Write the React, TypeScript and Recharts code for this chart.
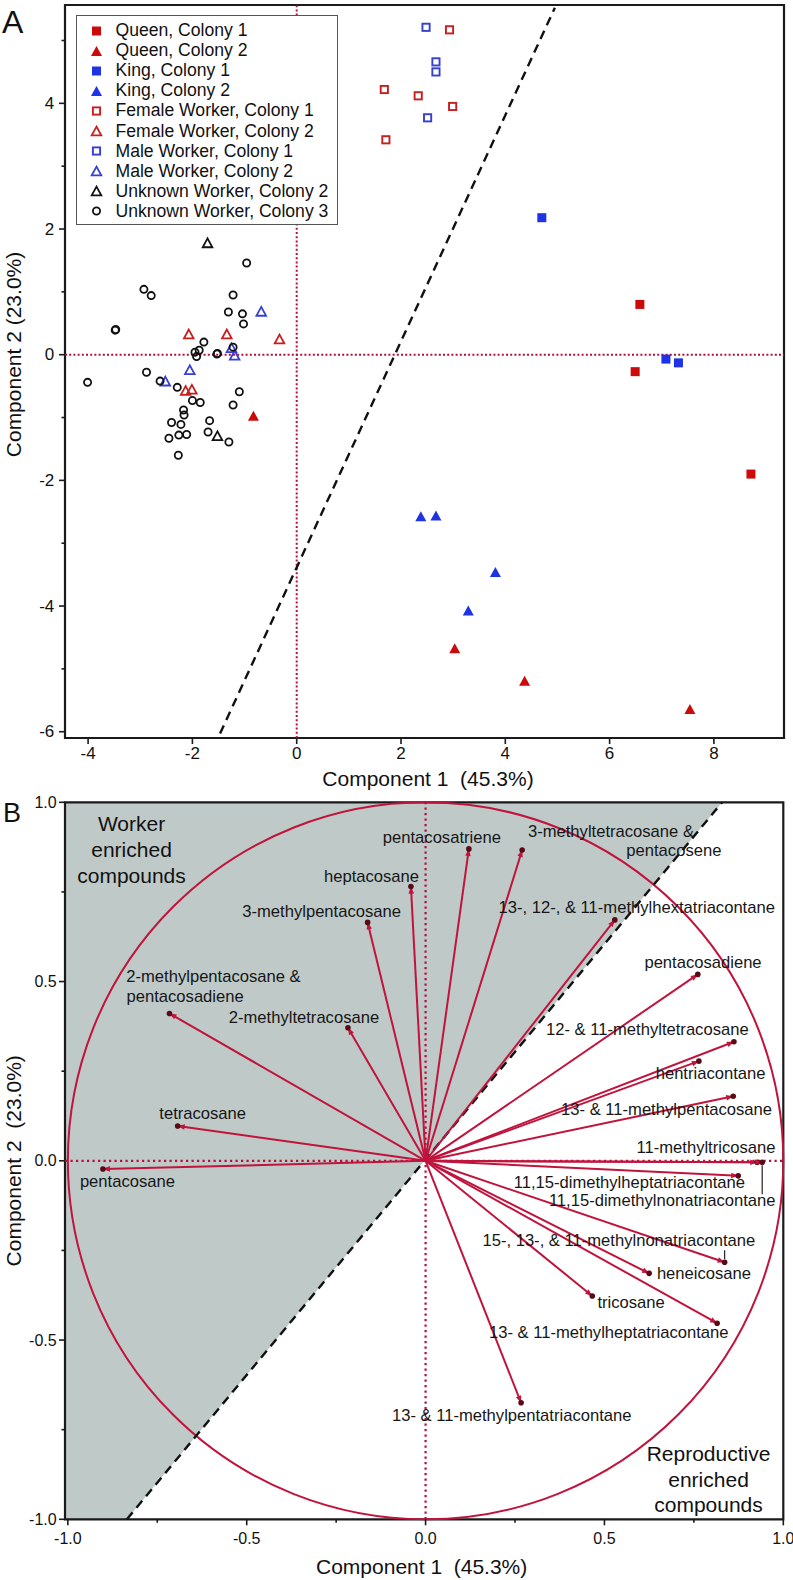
import React from "react";
import {
  ScatterChart,
  ComposedChart,
  Scatter,
  Area,
  XAxis,
  YAxis,
  ReferenceLine,
  ReferenceArea,
  ReferenceDot,
  Legend,
  Label,
} from "recharts";

const FONT = '"Liberation Sans", Arial, Helvetica, sans-serif';
const INK = "#1a1a1a";
const CRIMSON = "#c0143c";
const DOTTED = "#b3113c";

// ---------- panel A: PCA scores ----------
const queenColony1 = [
  { x: 6.58, y: 0.8 },
  { x: 6.49, y: -0.27 },
  { x: 8.71, y: -1.9 },
];
const queenColony2 = [
  { x: -0.83, y: -0.97 },
  { x: 3.03, y: -4.67 },
  { x: 4.37, y: -5.19 },
  { x: 7.54, y: -5.64 },
];
const kingColony1 = [
  { x: 4.7, y: 2.18 },
  { x: 7.08, y: -0.07 },
  { x: 7.32, y: -0.13 },
];
const kingColony2 = [
  { x: 2.38, y: -2.57 },
  { x: 2.67, y: -2.56 },
  { x: 3.81, y: -3.46 },
  { x: 3.29, y: -4.07 },
];
const femaleWorkerColony1 = [
  { x: 1.68, y: 4.22 },
  { x: 1.71, y: 3.42 },
  { x: 2.33, y: 4.12 },
  { x: 2.93, y: 5.17 },
  { x: 2.99, y: 3.95 },
];
const femaleWorkerColony2 = [
  { x: -2.07, y: 0.33 },
  { x: -1.34, y: 0.33 },
  { x: -0.33, y: 0.25 },
  { x: -2.13, y: -0.57 },
  { x: -2.01, y: -0.55 },
];
const maleWorkerColony1 = [
  { x: 2.48, y: 5.21 },
  { x: 2.67, y: 4.66 },
  { x: 2.67, y: 4.5 },
  { x: 2.51, y: 3.77 },
];
const maleWorkerColony2 = [
  { x: -0.68, y: 0.69 },
  { x: -1.25, y: 0.11 },
  { x: -1.19, y: -0.01 },
  { x: -2.05, y: -0.24 },
  { x: -2.52, y: -0.42 },
];
const unknownWorkerColony2 = [
  { x: -1.71, y: 1.78 },
  { x: -1.52, y: -1.29 },
];
const unknownWorkerColony3 = [
  { x: -0.96, y: 1.46 },
  { x: -2.93, y: 1.04 },
  { x: -2.79, y: 0.94 },
  { x: -1.22, y: 0.95 },
  { x: -1.31, y: 0.68 },
  { x: -1.04, y: 0.65 },
  { x: -1.02, y: 0.49 },
  { x: -3.48, y: 0.39 },
  { x: -3.47, y: 0.4 },
  { x: -1.78, y: 0.2 },
  { x: -1.87, y: 0.07 },
  { x: -1.95, y: 0.04 },
  { x: -1.92, y: -0.03 },
  { x: -1.53, y: 0.01 },
  { x: -1.52, y: 0.02 },
  { x: -1.22, y: 0.12 },
  { x: -4.01, y: -0.44 },
  { x: -2.88, y: -0.28 },
  { x: -2.62, y: -0.42 },
  { x: -2.29, y: -0.52 },
  { x: -2.0, y: -0.73 },
  { x: -1.85, y: -0.76 },
  { x: -1.1, y: -0.59 },
  { x: -1.22, y: -0.8 },
  { x: -2.17, y: -0.88 },
  { x: -2.16, y: -0.96 },
  { x: -1.67, y: -1.05 },
  { x: -2.4, y: -1.08 },
  { x: -2.22, y: -1.11 },
  { x: -1.7, y: -1.23 },
  { x: -2.11, y: -1.27 },
  { x: -2.26, y: -1.28 },
  { x: -2.45, y: -1.33 },
  { x: -1.3, y: -1.39 },
  { x: -2.27, y: -1.6 },
];

const A_X_DOMAIN = [-4.443, 9.344];
const A_Y_DOMAIN = [-6.1, 5.565];
const A_X_TICKS = [-4, -2, 0, 2, 4, 6, 8];
const A_Y_MAJOR = [-6, -4, -2, 0, 2, 4];
const A_Y_MINOR = [-5, -3, -1, 1, 3, 5];
const A_DIVIDER = [
  { x: -1.47, y: -6.03 },
  { x: 4.95, y: 5.52 },
];

type Kind = "square" | "triangle" | "circle";
const A_GROUPS: { name: string; data: { x: number; y: number }[]; color: string; kind: Kind; open: boolean }[] = [
  { name: "Queen, Colony 1", data: queenColony1, color: "#cc0a0a", kind: "square", open: false },
  { name: "Queen, Colony 2", data: queenColony2, color: "#cc0a0a", kind: "triangle", open: false },
  { name: "King, Colony 1", data: kingColony1, color: "#1e32e6", kind: "square", open: false },
  { name: "King, Colony 2", data: kingColony2, color: "#1e32e6", kind: "triangle", open: false },
  { name: "Female Worker, Colony 1", data: femaleWorkerColony1, color: "#c81e1e", kind: "square", open: true },
  { name: "Female Worker, Colony 2", data: femaleWorkerColony2, color: "#c81e1e", kind: "triangle", open: true },
  { name: "Male Worker, Colony 1", data: maleWorkerColony1, color: "#3540d0", kind: "square", open: true },
  { name: "Male Worker, Colony 2", data: maleWorkerColony2, color: "#3540d0", kind: "triangle", open: true },
  { name: "Unknown Worker, Colony 2", data: unknownWorkerColony2, color: "#111", kind: "triangle", open: true },
  { name: "Unknown Worker, Colony 3", data: unknownWorkerColony3, color: "#111", kind: "circle", open: true },
];

// ---------- panel B: loadings ----------
const compounds = [
  "pentacosane",
  "tetracosane",
  "2-methylpentacosane &\npentacosadiene",
  "2-methyltetracosane",
  "3-methylpentacosane",
  "heptacosane",
  "pentacosatriene",
  "3-methyltetracosane &\npentacosene",
  "13-, 12-, & 11-methylhextatriacontane",
  "pentacosadiene",
  "12- & 11-methyltetracosane",
  "hentriacontane",
  "13- & 11-methylpentacosane",
  "11-methyltricosane",
  "11,15-dimethylheptatriacontane",
  "11,15-dimethylnonatriacontane",
  "15-, 13-, & 11-methylnonatriacontane",
  "heneicosane",
  "tricosane",
  "13- & 11-methylheptatriacontane",
  "13- & 11-methylpentatriacontane",
];
const loadingPC1 = [
  -0.902, -0.693, -0.716, -0.217, -0.162, -0.041, 0.121, 0.27, 0.529, 0.761, 0.862, 0.764, 0.86, 0.927, 0.874,
  0.941, 0.836, 0.625, 0.466, 0.815, 0.267,
];
const loadingPC2 = [
  -0.023, 0.097, 0.411, 0.371, 0.665, 0.765, 0.87, 0.867, 0.672, 0.52, 0.332, 0.278, 0.18, -0.004, -0.042, -0.004,
  -0.283, -0.314, -0.377, -0.453, -0.675,
];

const B_X_DOMAIN = [-1.008, 1.0];
const B_Y_DOMAIN = [-1, 1];
const B_MAJOR = [-1, -0.5, 0, 0.5, 1];
const B_MINOR = [-0.75, -0.25, 0.25, 0.75];
const B_DIVIDER = [
  { x: -0.835, y: -1 },
  { x: 0.829, y: 1 },
];
// worker-enriched side of the divider
const workerRegion = [
  { x: -1.008, band: [-1, 1] },
  { x: -0.835, band: [-1, 1] },
  { x: 0.829, band: [1, 1] },
];

// label offsets (px) for each line of each loading label, relative to the arrow tip
const LABEL_PLACE: Record<string, { lines: [number, number][]; leader?: [number, number] }> = {
  pentacosane: { lines: [[24.5, 12]] },
  tetracosane: { lines: [[25, -12.7]] },
  "2-methylpentacosane &\npentacosadiene": { lines: [[44, -37.3], [15.7, -17.3]] },
  "2-methyltetracosane": { lines: [[-44, -10]] },
  "3-methylpentacosane": { lines: [[-46, -10.6]] },
  heptacosane: { lines: [[-39.4, -10]] },
  pentacosatriene: { lines: [[-27, -11.7]] },
  "3-methyltetracosane &\npentacosene": { lines: [[88.8, -18.3], [151.7, 0.7]] },
  "13-, 12-, & 11-methylhextatriacontane": { lines: [[21.9, -12.3]] },
  pentacosadiene: { lines: [[5.2, -11.6]] },
  "12- & 11-methyltetracosane": { lines: [[-86.6, -12.4]] },
  hentriacontane: { lines: [[11.7, 12.3]] },
  "13- & 11-methylpentacosane": { lines: [[-66.7, 13]] },
  "11-methyltricosane": { lines: [[-51.2, -15]] },
  "11,15-dimethylheptatriacontane": { lines: [[-108.9, 7]] },
  "11,15-dimethylnonatriacontane": { lines: [[-100, 38.7]], leader: [3, 32] },
  "15-, 13-, & 11-methylnonatriacontane": { lines: [[-105.8, -21.6]], leader: [-12, -3] },
  heneicosane: { lines: [[54.8, 0]] },
  tricosane: { lines: [[38.8, 6.3]] },
  "13- & 11-methylheptatriacontane": { lines: [[-108.4, 9.4]] },
  "13- & 11-methylpentatriacontane": { lines: [[-9.4, 13]] },
};

const B_NOTES = [
  { lines: ["Worker", "enriched", "compounds"], x: -0.822, y: 0.869 },
  { lines: ["Reproductive", "enriched", "compounds"], x: 0.791, y: -0.888 },
];

// ---------- shared bits ----------
function Marker({ cx, cy, kind, open, color }: { cx: number; cy: number; kind: Kind; open: boolean; color: string }) {
  if (kind === "square") {
    if (!open) return <rect x={cx - 4.5} y={cy - 4.5} width={9} height={9} fill={color} />;
    return <rect x={cx - 3.6} y={cy - 3.6} width={7.2} height={7.2} fill="none" stroke={color} strokeWidth={1.9} />;
  }
  if (kind === "triangle") {
    const w = open ? 9.6 : 11;
    const h = open ? 8.8 : 10;
    const pts = `${cx},${cy - h / 2} ${cx - w / 2},${cy + h / 2} ${cx + w / 2},${cy + h / 2}`;
    return open ? (
      <polygon points={pts} fill="none" stroke={color} strokeWidth={1.8} />
    ) : (
      <polygon points={pts} fill={color} />
    );
  }
  return <circle cx={cx} cy={cy} r={3.6} fill="none" stroke={color} strokeWidth={1.8} />;
}

function LegendBox() {
  return (
    <div
      style={{
        border: "1.5px solid #555",
        background: "#fff",
        padding: "4.5px 0 2.5px 0",
        fontFamily: FONT,
        fontSize: 17.6,
        color: "#111",
        boxSizing: "border-box",
        width: 262,
      }}
    >
      {A_GROUPS.map((g) => (
        <div key={g.name} style={{ height: 20.1, display: "flex", alignItems: "center", whiteSpace: "nowrap" }}>
          <svg width={38.5} height={20} style={{ flex: "none" }}>
            <Marker cx={19.5} cy={10} kind={g.kind} open={g.open} color={g.color} />
          </svg>
          <span>{g.name}</span>
        </div>
      ))}
    </div>
  );
}

const TICK = 6;

function leftTick(majors: number[], fmt: (v: number) => string, fontSize: number, gap: number, margin: number) {
  return (props: any) => {
    const { x, y, payload } = props;
    const v = payload.value;
    const major = majors.some((m) => Math.abs(m - v) < 1e-9);
    const ax = x + TICK + margin;
    const len = major ? 6 : 3.5;
    return (
      <g>
        <line x1={ax - len} x2={ax} y1={y} y2={y} stroke={INK} strokeWidth={1.6} />
        {major && (
          <text x={ax - gap} y={y} textAnchor="end" dominantBaseline="central" fontSize={fontSize} fontFamily={FONT} fill="#111">
            {fmt(v)}
          </text>
        )}
      </g>
    );
  };
}

function bottomTick(majors: number[], fmt: (v: number) => string, fontSize: number, drop: number, margin: number) {
  return (props: any) => {
    const { x, y, payload } = props;
    const v = payload.value;
    const major = majors.some((m) => Math.abs(m - v) < 1e-9);
    const ay = y - TICK - margin;
    const len = major ? 6 : 3.5;
    return (
      <g>
        <line x1={x} x2={x} y1={ay} y2={ay + len} stroke={INK} strokeWidth={1.6} />
        {major && (
          <text x={x} y={ay + drop} textAnchor="middle" dominantBaseline="central" fontSize={fontSize} fontFamily={FONT} fill="#111">
            {fmt(v)}
          </text>
        )}
      </g>
    );
  };
}

const xTitle = (text: string, dx: number, dy: number) => (props: any) => {
  const vb = props.viewBox;
  return (
    <text
      x={vb.x + vb.width / 2 + dx}
      y={vb.y + dy}
      textAnchor="middle"
      dominantBaseline="central"
      fontSize={21}
      fontFamily={FONT}
      fill="#111"
      style={{ whiteSpace: "pre" }}
    >
      {text}
    </text>
  );
};

const yTitle = (text: string, shift: number) => (props: any) => {
  const vb = props.viewBox;
  const cx = vb.x + 13.5;
  const cy = vb.y + vb.height / 2 + shift;
  return (
    <text
      x={cx}
      y={cy}
      transform={`rotate(-90 ${cx} ${cy})`}
      textAnchor="middle"
      dominantBaseline="central"
      fontSize={21}
      fontFamily={FONT}
      fill="#111"
      style={{ whiteSpace: "pre" }}
    >
      {text}
    </text>
  );
};

function PanelA() {
  return (
    <ScatterChart width={793} height={790} margin={{ top: 5, right: 9, bottom: 0, left: 0 }}>
      <XAxis
        type="number"
        dataKey="x"
        domain={A_X_DOMAIN}
        allowDataOverflow
        ticks={A_X_TICKS}
        interval={0}
        axisLine={false}
        tickLine={false}
        tickMargin={2}
        height={52}
        tick={bottomTick(A_X_TICKS, (v) => String(v), 17, 15.3, 2)}
      >
        <Label content={xTitle("Component 1  (45.3%)", 3.5, 40)} />
      </XAxis>
      <YAxis
        type="number"
        dataKey="y"
        domain={A_Y_DOMAIN}
        allowDataOverflow
        ticks={[...A_Y_MAJOR, ...A_Y_MINOR].sort((a, b) => a - b)}
        interval={0}
        axisLine={false}
        tickLine={false}
        tickMargin={2}
        width={65}
        tick={leftTick(A_Y_MAJOR, (v) => String(v), 17, 10.7, 2)}
      >
        <Label content={yTitle("Component 2 (23.0%)", -17)} />
      </YAxis>
      <ReferenceArea
        x1={A_X_DOMAIN[0]}
        x2={A_X_DOMAIN[1]}
        y1={A_Y_DOMAIN[0]}
        y2={A_Y_DOMAIN[1]}
        fill="none"
        stroke={INK}
        strokeWidth={2.2}
        ifOverflow="visible"
      />
      <ReferenceLine x={0} stroke={DOTTED} strokeWidth={2} strokeDasharray="2 2.2" />
      <ReferenceLine y={0} stroke={DOTTED} strokeWidth={2} strokeDasharray="2 2.2" />
      <ReferenceLine segment={A_DIVIDER} stroke="#111" strokeWidth={2.4} strokeDasharray="9 6" />
      {A_GROUPS.map((g) => (
        <Scatter
          key={g.name}
          name={g.name}
          data={g.data}
          fill={g.color}
          isAnimationActive={false}
          shape={(p: any) => <Marker cx={p.cx} cy={p.cy} kind={g.kind} open={g.open} color={g.color} />}
        />
      ))}
      <Legend
        layout="vertical"
        align="center"
        verticalAlign="middle"
        wrapperStyle={{ left: 76, top: 15, width: 262, height: 211 }}
        content={() => <LegendBox />}
      />
    </ScatterChart>
  );
}

function VectorTip(props: any) {
  const { cx, cy, payload } = props;
  if (cx == null || cy == null) return null;
  const name: string = payload.name;
  const place = LABEL_PLACE[name];
  const ang = Math.atan2(-payload.y, payload.x);
  const ux = Math.cos(ang);
  const uy = Math.sin(ang);
  const L = 7;
  const W = 2.8;
  const bx = cx - ux * L;
  const by = cy - uy * L;
  const head = `${cx},${cy} ${bx - uy * W},${by + ux * W} ${bx + uy * W},${by - ux * W}`;
  const lines = name.split("\n");
  return (
    <g>
      <polygon points={head} fill={CRIMSON} />
      <circle cx={cx} cy={cy} r={2.8} fill="#5a0a14" />
      {place?.leader && (
        <line x1={cx} x2={cx} y1={cy + place.leader[0]} y2={cy + place.leader[1]} stroke="#222" strokeWidth={1.2} />
      )}
      {lines.map((t, i) => {
        const off = place ? place.lines[i] : [0, -12];
        return (
          <text
            key={i}
            x={cx + off[0]}
            y={cy + off[1]}
            textAnchor="middle"
            dominantBaseline="central"
            fontSize={16.6}
            fontFamily={FONT}
            fill="#161616"
          >
            {t}
          </text>
        );
      })}
    </g>
  );
}

function PanelB() {
  const vectors = compounds.map((name, i) => ({ name, x: loadingPC1[i], y: loadingPC2[i] }));
  const fmt = (v: number) => v.toFixed(1);
  return (
    <ComposedChart width={793} height={790} data={workerRegion} margin={{ top: 12.3, right: 9.7, bottom: 0, left: 0 }}>
      <XAxis
        type="number"
        dataKey="x"
        domain={B_X_DOMAIN}
        allowDataOverflow
        ticks={[...B_MAJOR, ...B_MINOR].sort((a, b) => a - b)}
        interval={0}
        axisLine={false}
        tickLine={false}
        tickMargin={6}
        height={60.7}
        tick={bottomTick(B_MAJOR, fmt, 16, 19, 6)}
      >
        <Label content={xTitle("Component 1  (45.3%)", -2.5, 47.4)} />
      </XAxis>
      <YAxis
        type="number"
        dataKey="y"
        domain={B_Y_DOMAIN}
        allowDataOverflow
        ticks={[...B_MAJOR, ...B_MINOR].sort((a, b) => a - b)}
        interval={0}
        axisLine={false}
        tickLine={false}
        tickMargin={2}
        width={65}
        tick={leftTick(B_MAJOR, fmt, 16, 8.3, 2)}
      >
        <Label content={yTitle("Component 2  (23.0%)", 0)} />
      </YAxis>
      <Area
        type="linear"
        dataKey="band"
        fill="#bfc9c8"
        fillOpacity={1}
        stroke="none"
        isAnimationActive={false}
        dot={false}
        activeDot={false}
      />
      <ReferenceArea
        x1={B_X_DOMAIN[0]}
        x2={B_X_DOMAIN[1]}
        y1={B_Y_DOMAIN[0]}
        y2={B_Y_DOMAIN[1]}
        fill="none"
        stroke={INK}
        strokeWidth={2.2}
        ifOverflow="visible"
      />
      <ReferenceArea
        x1={-1}
        x2={1}
        y1={-1}
        y2={1}
        ifOverflow="visible"
        shape={(p: any) => (
          <ellipse
            cx={p.x + p.width / 2}
            cy={p.y + p.height / 2}
            rx={Math.abs(p.width) / 2}
            ry={Math.abs(p.height) / 2}
            fill="none"
            stroke={CRIMSON}
            strokeWidth={2}
          />
        )}
      />
      <ReferenceLine x={0} stroke={DOTTED} strokeWidth={2.2} strokeDasharray="2.2 3.3" />
      <ReferenceLine y={0} stroke={DOTTED} strokeWidth={2.2} strokeDasharray="2.2 3.3" />
      <ReferenceLine segment={B_DIVIDER} stroke="#111" strokeWidth={2.4} strokeDasharray="9 6" />
      {vectors.map((v) => (
        <ReferenceLine
          key={v.name}
          segment={[
            { x: 0, y: 0 },
            { x: v.x, y: v.y },
          ]}
          stroke={CRIMSON}
          strokeWidth={2}
        />
      ))}
      <Scatter data={vectors} isAnimationActive={false} shape={VectorTip} />
      {B_NOTES.map((n) => (
        <ReferenceDot
          key={n.lines[0]}
          x={n.x}
          y={n.y}
          r={0}
          shape={(p: any) => (
            <g>
              {n.lines.map((t, i) => (
                <text
                  key={t}
                  x={p.cx}
                  y={p.cy + (i - 1) * 25.8}
                  textAnchor="middle"
                  dominantBaseline="central"
                  fontSize={21}
                  fontFamily={FONT}
                  fill="#111"
                >
                  {t}
                </text>
              ))}
            </g>
          )}
        />
      ))}
    </ComposedChart>
  );
}

export default function App() {
  return (
    <div style={{ position: "absolute", left: 0, top: 0, width: 793, height: 1580, background: "#fff", fontFamily: FONT }}>
      <div style={{ position: "absolute", left: 0, top: 0 }}>
        <PanelA />
      </div>
      <div style={{ position: "absolute", left: 0, top: 790 }}>
        <PanelB />
      </div>
      <svg width={793} height={1580} style={{ position: "absolute", left: 0, top: 0, pointerEvents: "none" }}>
        <text x={2} y={33} fontSize={32} fontFamily={FONT} fill="#111">
          A
        </text>
        <text x={3} y={822} fontSize={27} fontFamily={FONT} fill="#111">
          B
        </text>
      </svg>
    </div>
  );
}
